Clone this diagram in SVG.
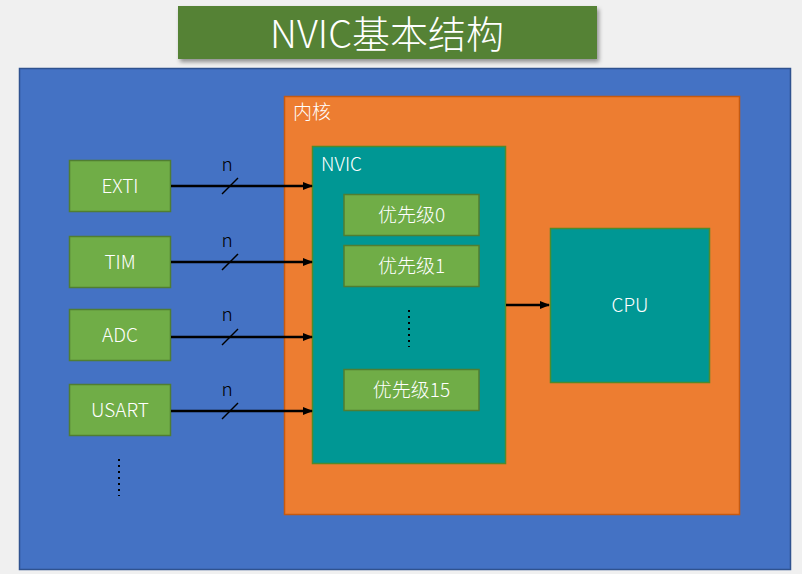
<svg xmlns="http://www.w3.org/2000/svg" width="802" height="574" viewBox="0 0 802 574">
<defs>
<style>
text{font-family:"Noto Sans CJK SC","Liberation Sans",sans-serif;fill:#fff;font-weight:300;}
.src{fill:#70ad47;stroke:#507e32;stroke-width:1.5;}
.pri{fill:#70ad47;stroke:#507e32;stroke-width:1.5;}
.lbl{font-size:19px;text-anchor:middle;}
.conn{stroke:#000;stroke-width:2.5;fill:none;}
.slash{stroke:#000;stroke-width:1.5;}
.n{font-size:19px;fill:#000;text-anchor:middle;font-weight:300;}
.dots{stroke:#000;stroke-width:2;stroke-dasharray:2 4;}
</style>
<marker id="ah" markerWidth="10" markerHeight="8" refX="9" refY="4" orient="auto" markerUnits="userSpaceOnUse">
<path d="M0,0 L10,4 L0,8 Z" fill="#000"/>
</marker>
<filter id="sh" x="-5%" y="-20%" width="110%" height="150%">
<feDropShadow dx="2" dy="3" stdDeviation="2" flood-color="#000" flood-opacity="0.4"/>
</filter>
</defs>
<rect width="802" height="574" fill="#f0f0f0"/>
<g id="title">
<rect x="178" y="6" width="419" height="53" fill="#548235" filter="url(#sh)"/>
<text x="387" y="48" font-size="38" text-anchor="middle">NVIC基本结构</text>
</g>
<g id="system">
<rect x="19.5" y="68.5" width="771" height="501" fill="#4472c4" stroke="#2f528f" stroke-width="1.5"/>
</g>
<g id="core">
<rect x="284.5" y="96.5" width="455" height="418" fill="#ed7d31" stroke="#c55a11" stroke-width="1.5"/>
<text x="293" y="119" font-size="19">内核</text>
</g>
<g id="nvic">
<rect x="312.5" y="146.5" width="193" height="317" fill="#009794" stroke="#4e8b2d" stroke-width="1.5"/>
<text x="321" y="171" font-size="19">NVIC</text>
</g>
<g id="pri0"><rect class="pri" x="344" y="194.5" width="135" height="41"/><text class="lbl" x="411.5" y="222">优先级0</text></g>
<g id="pri1"><rect class="pri" x="344" y="245.5" width="135" height="41"/><text class="lbl" x="411.5" y="273">优先级1</text></g>
<g id="pri15"><rect class="pri" x="344" y="369.5" width="135" height="41"/><text class="lbl" x="411.5" y="397">优先级15</text></g>
<g id="cpu">
<rect x="550.5" y="228.5" width="159" height="154" fill="#009794" stroke="#4e8b2d" stroke-width="1.5"/>
<text x="630" y="312" font-size="19" text-anchor="middle">CPU</text>
</g>
<g id="exti"><rect class="src" x="69.5" y="160.5" width="101" height="51"/><text class="lbl" x="120" y="193">EXTI</text></g>
<g id="tim"><rect class="src" x="69.5" y="236.5" width="101" height="51"/><text class="lbl" x="120" y="269">TIM</text></g>
<g id="adc"><rect class="src" x="69.5" y="309.5" width="101" height="51"/><text class="lbl" x="120" y="342">ADC</text></g>
<g id="usart"><rect class="src" x="69.5" y="384.5" width="101" height="51"/><text class="lbl" x="120" y="417">USART</text></g>
<g id="connectors">
<line class="conn" x1="171" y1="186" x2="312" y2="186" marker-end="url(#ah)"/>
<line class="conn" x1="171" y1="262" x2="312" y2="262" marker-end="url(#ah)"/>
<line class="conn" x1="171" y1="337" x2="312" y2="337" marker-end="url(#ah)"/>
<line class="conn" x1="171" y1="411" x2="312" y2="411" marker-end="url(#ah)"/>
<line class="conn" x1="506" y1="305" x2="549" y2="305" marker-end="url(#ah)"/>
<line class="slash" x1="222" y1="194" x2="238" y2="178"/>
<line class="slash" x1="222" y1="270" x2="238" y2="254"/>
<line class="slash" x1="222" y1="345" x2="238" y2="329"/>
<line class="slash" x1="222" y1="419" x2="238" y2="403"/>
<text class="n" x="227" y="171">n</text>
<text class="n" x="227" y="247">n</text>
<text class="n" x="227" y="321">n</text>
<text class="n" x="227" y="396">n</text>
</g>
<line class="dots" x1="119" y1="459" x2="119" y2="496"/>
<line class="dots" x1="409" y1="310" x2="409" y2="347"/>
</svg>
